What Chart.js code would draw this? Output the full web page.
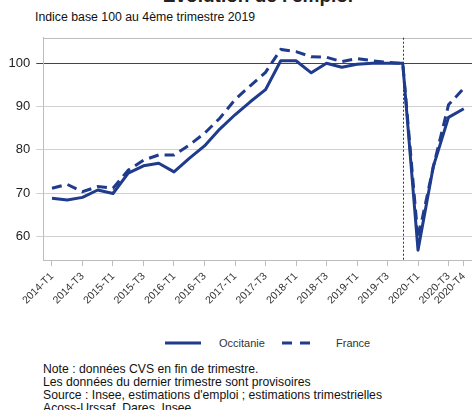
<!DOCTYPE html>
<html lang="fr">
<head>
<meta charset="utf-8">
<script src="https://cdn.jsdelivr.net/npm/chart.js@4"></script>
<style>
  html, body { margin: 0; padding: 0; background: #fff; overflow: hidden; }
  body { width: 472px; height: 410px; position: relative; font-family: "Liberation Sans", Arial, sans-serif; color: #111; }
  #title { position: absolute; top: -13.5px; left: 0; width: 516px; text-align: center; font-weight: bold; font-size: 19px; line-height: 18px; color: #222; }
  #subtitle { position: absolute; top: 10.5px; left: 35px; font-size: 12.3px; line-height: 13px; white-space: nowrap; }
  #chart { position: absolute; top: 0; left: 0; }
  #legend { position: absolute; top: 335px; left: 0; width: 472px; height: 15px; font-size: 11px; color: #333; }
  #legend .item { position: absolute; top: 0; height: 15px; display: flex; align-items: center; }
  #legend svg { display: block; }
  #notes { position: absolute; top: 362.5px; left: 43px; font-size: 12.2px; line-height: 13.3px; white-space: nowrap; }
</style>
</head>
<body>
<div id="title">Évolution de l'emploi</div>
<div id="subtitle">Indice base 100 au 4ème trimestre 2019</div>
<canvas id="chart" width="472" height="320"></canvas>
<div id="legend"></div>
<div id="notes">
  Note : données CVS en fin de trimestre.<br>
  Les données du dernier trimestre sont provisoires<br>
  Source : Insee, estimations d'emploi ; estimations trimestrielles<br>
  Acoss-Urssaf, Dares, Insee
</div>
<script>
(function () {
  // quarters, 2014-T1 .. 2020-T4
  const quarters = [
    '2014-T1','2014-T2','2014-T3','2014-T4',
    '2015-T1','2015-T2','2015-T3','2015-T4',
    '2016-T1','2016-T2','2016-T3','2016-T4',
    '2017-T1','2017-T2','2017-T3','2017-T4',
    '2018-T1','2018-T2','2018-T3','2018-T4',
    '2019-T1','2019-T2','2019-T3','2019-T4',
    '2020-T1','2020-T2','2020-T3','2020-T4'
  ];
  const occitanie = [68.8, 68.4, 69.0, 70.7, 69.9, 74.6, 76.3, 76.9, 74.9, 78.0, 80.9, 84.8, 88.1, 91.1,
                     93.9, 100.6, 100.6, 97.8, 100.0, 99.1, 99.8, 100.0, 100.0, 100.0, 56.8, 76.1, 87.5, 89.5];
  const france = [71.1, 72.0, 70.3, 71.5, 71.1, 75.3, 77.6, 78.8, 78.8, 81.1, 83.8, 87.3, 91.6, 94.8,
                  97.9, 103.2, 102.7, 101.5, 101.4, 100.4, 101.1, 100.6, 100.2, 100.0, 59.5, 76.0, 90.4, 94.2];
  const seriesNames = ['Occitanie', 'France'];
  const xTicks = [0, 2, 4, 6, 8, 10, 12, 14, 16, 18, 20, 22, 24, 26, 27];
  const yTicks = [60, 70, 80, 90, 100];
  const baseQuarter = 23;

  const blue = '#1f3b8c';
  const frame = '#bdbdbd';

  const toPoints = arr => arr.map((v, i) => ({ x: i, y: v }));

  const decor = {
    id: 'decor',
    beforeDatasetsDraw(chart) {
      const { ctx, chartArea, scales } = chart;
      ctx.save();
      ctx.strokeStyle = frame;
      ctx.lineWidth = 1;
      ctx.beginPath();
      ctx.moveTo(chartArea.left, Math.round(chartArea.top) + 0.5);
      ctx.lineTo(chartArea.right, Math.round(chartArea.top) + 0.5);
      ctx.stroke();
      const x = Math.round(scales.x.getPixelForValue(baseQuarter)) + 0.5;
      ctx.strokeStyle = '#333';
      ctx.setLineDash([2, 2]);
      ctx.beginPath();
      ctx.moveTo(x, chartArea.top);
      ctx.lineTo(x, chartArea.bottom);
      ctx.stroke();
      ctx.restore();
    }
  };

  new Chart(document.getElementById('chart'), {
    type: 'line',
    data: {
      datasets: [
        { label: seriesNames[0], data: toPoints(occitanie), borderColor: blue, borderWidth: 3,
          pointRadius: 0, tension: 0, borderJoinStyle: 'round' },
        { label: seriesNames[1], data: toPoints(france), borderColor: blue, borderWidth: 3,
          borderDash: [10, 6], pointRadius: 0, tension: 0 }
      ]
    },
    options: {
      responsive: false,
      animation: false,
      layout: { padding: { left: 0, right: 0, top: 37.7, bottom: 0 } },
      plugins: { legend: { display: false }, tooltip: { enabled: false }, title: { display: false } },
      scales: {
        x: {
          type: 'linear',
          min: -0.57,
          max: 27.54,
          afterBuildTicks: s => { s.ticks = xTicks.map(v => ({ value: v })); },
          afterFit: s => { s.height = 60; s.paddingLeft = 0; s.paddingRight = 0; },
          grid: { drawOnChartArea: false, drawTicks: true, tickLength: 6, color: frame },
          border: { display: true, color: frame },
          ticks: {
            autoSkip: false, maxRotation: 45, minRotation: 45, padding: 4,
            color: '#333', font: { family: 'Liberation Sans', size: 10.5 },
            callback: v => quarters[v]
          }
        },
        y: {
          min: 54.52,
          max: 105.92,
          afterBuildTicks: s => { s.ticks = yTicks.map(v => ({ value: v })); },
          afterFit: s => { s.width = 43.3; s.paddingTop = 0; s.paddingBottom = 0; },
          grid: {
            tickLength: 7,
            color: c => (c.tick && c.tick.value === 100 ? '#444' : '#d0d0d0')
          },
          border: { display: true, color: frame },
          ticks: { padding: 6, color: '#222', font: { family: 'Liberation Sans', size: 13 } }
        }
      }
    },
    plugins: [decor]
  });

  // legend
  const legend = document.getElementById('legend');
  const items = [
    { name: seriesNames[0], dash: '', x: 165 },
    { name: seriesNames[1], dash: '10 8', x: 282 }
  ];
  items.forEach(it => {
    const d = document.createElement('div');
    d.className = 'item';
    d.style.left = it.x + 'px';
    d.innerHTML = '<svg width="36" height="6"><line x1="0" y1="3" x2="36" y2="3" stroke="' + blue +
      '" stroke-width="3"' + (it.dash ? ' stroke-dasharray="' + it.dash + '"' : '') + '/></svg>' +
      '<span style="margin-left:18px">' + it.name + '</span>';
    legend.appendChild(d);
  });
})();
</script>
</body>
</html>
